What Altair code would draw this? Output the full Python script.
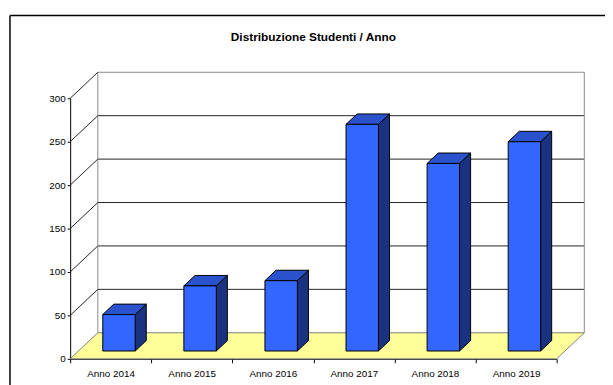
import altair as alt
import pandas as pd

# ---- data ----
categories = ["Anno 2014", "Anno 2015", "Anno 2016", "Anno 2017", "Anno 2018", "Anno 2019"]
values = [42, 75, 81, 261, 216, 241]
y_ticks = [0, 50, 100, 150, 200, 250, 300]

# ---- 3D styling constants (depth of the box, bar placement) ----
N = len(categories)
YMAX = 300
DX = 0.341     # depth in x units
DY = 30.0      # depth in y units
BW = 0.40      # bar width (band units)
F0, F1 = 0.3, 0.7  # bar depth span as fraction of box depth

FONT = "Liberation Sans"

def X(field, **kw):
    return alt.X(field, type="quantitative", scale=alt.Scale(domain=[0, N], nice=False, zero=False), **kw)

def Y(field, **kw):
    return alt.Y(field, type="quantitative", scale=alt.Scale(domain=[0, YMAX], nice=False, zero=False), **kw)

grid_df = pd.DataFrame([{"x": DX, "x2": N + DX, "y": v + DY} for v in y_ticks[1:-1]])
gtop_df = pd.DataFrame([{"x": DX, "x2": N + DX, "y": YMAX + DY}])
diag_df = pd.DataFrame([{"x": 0.0, "x2": DX, "y": v, "y2": v + DY} for v in y_ticks[1:]])
vert_df = pd.DataFrame([{"x": DX, "y": DY, "y2": YMAX + DY}, {"x": N + DX, "y": DY, "y2": YMAX + DY}])
floor_df = pd.DataFrame([{"y": 0.0, "x": 0.0, "x2": float(N)}, {"y": DY, "x": DX, "x2": N + DX}])

front_rows, side_rows, top_rows = [], [], []
bdx = (F1 - F0) * DX
bdy = (F1 - F0) * DY
for i, (c, v) in enumerate(zip(categories, values)):
    xl = i + 0.5 - BW / 2 + F0 * DX
    xr = xl + BW
    yb = F0 * DY
    yt = v + F0 * DY
    front_rows.append({"cat": c, "x": xl, "x2": xr, "y": yb, "y2": yt})
    side_rows.append({"cat": c, "x": xr, "y": yb, "y2": yt})
    side_rows.append({"cat": c, "x": xr + bdx, "y": yb + bdy, "y2": yt + bdy})
    top_rows.append({"cat": c, "y": yt, "x": xl, "x2": xr})
    top_rows.append({"cat": c, "y": yt + bdy, "x": xl + bdx, "x2": xr + bdx})
front_df = pd.DataFrame(front_rows)
side_df = pd.DataFrame(side_rows)
top_df = pd.DataFrame(top_rows)

label_arr = "[" + ",".join("'" + c + "'" for c in categories) + ",'']"

axis_layer = alt.Chart(pd.DataFrame({"x": [0.0], "y": [0.0]})).mark_point(opacity=0).encode(
    x=X("x", title=None, axis=alt.Axis(
        values=list(range(N + 1)), labelExpr=label_arr + "[datum.value]",
        labelOffset=41, tickSize=4, labelPadding=6, domainColor="black", tickColor="black",
        labelFont=FONT, labelFontSize=10, labelColor="black", grid=False,
        labelOverlap=False, labelFlush=False, labelBound=False)),
    y=Y("y", title=None, axis=alt.Axis(
        values=y_ticks, tickSize=3, labelPadding=2, domainColor="black", tickColor="black",
        labelFont=FONT, labelFontSize=10, labelColor="black", grid=False)),
)

grid = alt.Chart(grid_df).mark_rule(color="#222222", strokeWidth=1).encode(
    x=X("x", axis=None), x2="x2", y=Y("y", axis=None))
gtop = alt.Chart(gtop_df).mark_rule(color="#888888", strokeWidth=1).encode(
    x=X("x", axis=None), x2="x2", y=Y("y", axis=None))
diag = alt.Chart(diag_df).mark_rule(color="#222222", strokeWidth=1).encode(
    x=X("x", axis=None), x2="x2", y=Y("y", axis=None), y2="y2")
vert = alt.Chart(vert_df).mark_rule(color="#888888", strokeWidth=1).encode(
    x=X("x", axis=None), y=Y("y", axis=None), y2="y2")
floor = alt.Chart(floor_df).mark_area(orient="horizontal", color="#FFFF99", stroke="#808080", strokeWidth=1).encode(
    y=Y("y", axis=None), x=X("x", axis=None, stack=False), x2="x2")

side = alt.Chart(side_df).mark_area(color="#1A3380", stroke="black", strokeWidth=1).encode(
    x=X("x", axis=None), y=Y("y", axis=None, stack=False), y2="y2", detail="cat:N")
top = alt.Chart(top_df).mark_area(orient="horizontal", color="#2952CC", stroke="black", strokeWidth=1).encode(
    y=Y("y", axis=None), x=X("x", axis=None, stack=False), x2="x2", detail="cat:N")
front = alt.Chart(front_df).mark_rect(color="#3366FF", stroke="black", strokeWidth=1).encode(
    x=X("x", axis=None), x2="x2", y=Y("y", axis=None), y2="y2")

frame = alt.Chart(pd.DataFrame({"a": [0]})).mark_rule(color="black", strokeWidth=1.5).encode(
    x=alt.value(-61), y=alt.value(-84), y2=alt.value(400))
frame_top = alt.Chart(pd.DataFrame({"a": [0]})).mark_rule(color="black", strokeWidth=1.5).encode(
    x=alt.value(-61), x2=alt.value(600), y=alt.value(-84))

chart = alt.layer(
    axis_layer, grid, gtop, vert, diag, floor, side, top, front, frame, frame_top
).resolve_axis(x="independent", y="independent").properties(
    width=493, height=264,
    background="white",
    autosize=alt.AutoSizeParams(type="none"),
    padding={"left": 63, "top": 89, "right": 49, "bottom": 24},
    title=alt.Title("Distribuzione Studenti / Anno", font=FONT, fontSize=12, fontWeight="bold",
                    color="black", anchor="middle", offset=-30),
).configure_view(strokeWidth=0)

chart.save("out.html", embed_options={"renderer": "svg", "actions": False})
